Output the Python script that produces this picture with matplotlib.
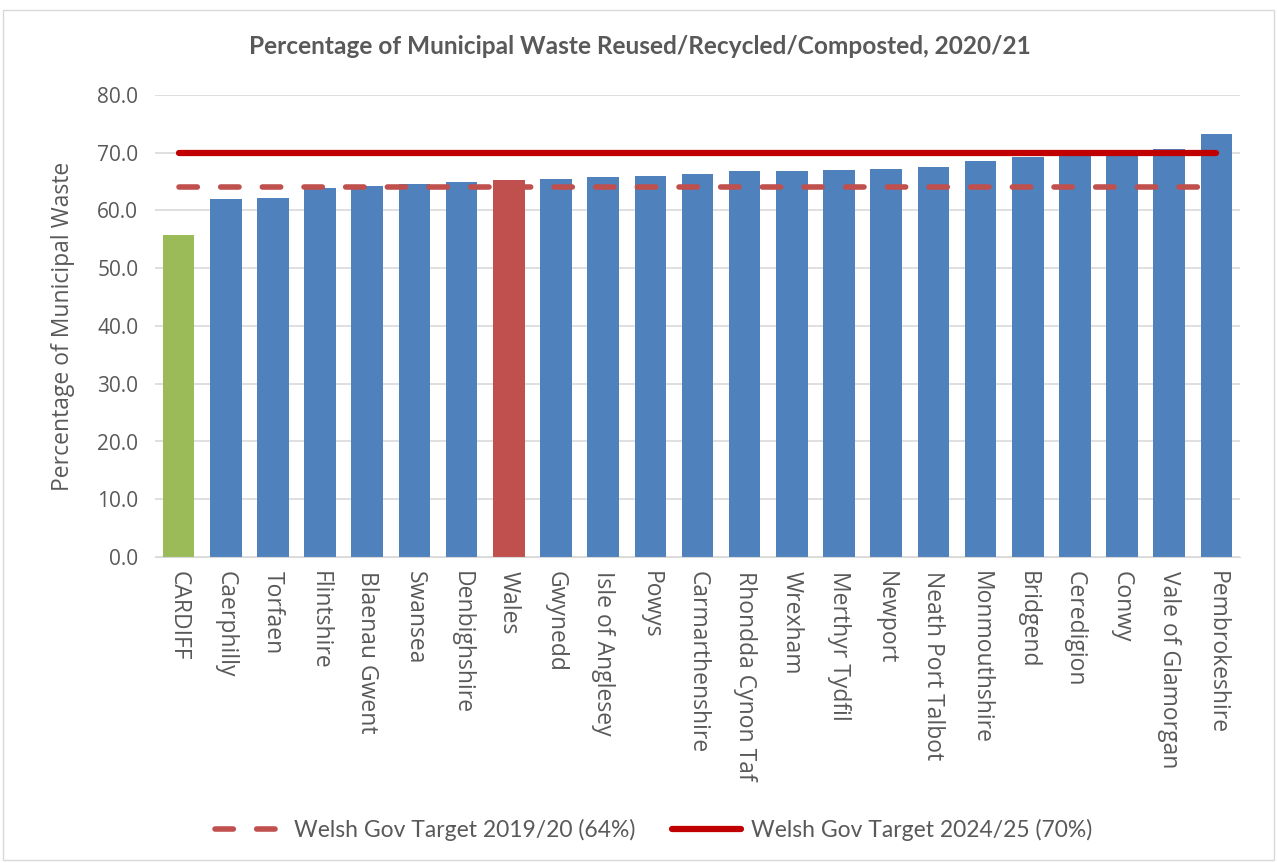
import matplotlib
matplotlib.use("Agg")
import matplotlib.pyplot as plt
from matplotlib.lines import Line2D
from matplotlib.patches import Rectangle

categories = ["CARDIFF", "Caerphilly", "Torfaen", "Flintshire", "Blaenau Gwent", "Swansea",
              "Denbighshire", "Wales", "Gwynedd", "Isle of Anglesey", "Powys", "Carmarthenshire",
              "Rhondda Cynon Taf", "Wrexham", "Merthyr Tydfil", "Newport", "Neath Port Talbot",
              "Monmouthshire", "Bridgend", "Ceredigion", "Conwy", "Vale of Glamorgan", "Pembrokeshire"]
values = [55.8, 62.0, 62.1, 63.9, 64.3, 64.6, 64.9, 65.3, 65.5, 65.8, 66.0, 66.4,
          66.8, 66.9, 67.0, 67.2, 67.6, 68.5, 69.2, 70.1, 70.2, 70.6, 73.3]
target_2019 = 64.0
target_2024 = 70.0
yticks = [0, 10, 20, 30, 40, 50, 60, 70, 80]

AXFONT = ["Open Sans", "DejaVu Sans"]
TFONT = ["Lato", "DejaVu Sans"]
plt.rcParams['font.family'] = AXFONT

fig = plt.figure(figsize=(12.77, 8.63), dpi=100)
fig.patches.append(Rectangle((3/1277, 3/863), 1271/1277, 850/863, transform=fig.transFigure,
                             fill=False, edgecolor="#D9D9D9", linewidth=1))
ax = fig.add_axes([155/1277, 1 - 557/863, (1240 - 155)/1277, (557 - 95)/863])

n = len(categories)
x = list(range(n))
colors = []
for c in categories:
    if c == "CARDIFF":
        colors.append("#9BBB59")
    elif c == "Wales":
        colors.append("#C0504D")
    else:
        colors.append("#4F81BD")
ax.bar(x, values, width=0.67, color=colors, zorder=2)

DASH = (0, (3.3, 4.2))
ax.plot(x, [target_2019] * n, color="#C0504D", linewidth=4, linestyle=DASH,
        dash_capstyle="round", solid_capstyle="round", zorder=3)
ax.plot(x, [target_2024] * n, color="#C00000", linewidth=4.5, solid_capstyle="round", zorder=3)

ax.set_xlim(-0.5, n - 0.5)
ax.set_ylim(0, 80)
ax.set_yticks(yticks)
ax.set_yticklabels([f"{v:.1f}" for v in yticks], fontsize=15, color="#595959")
ax.set_xticks(x)
ax.set_xticklabels(categories, rotation=-90, fontsize=16.5, color="#595959", va="top", ha="center")
ax.tick_params(axis="both", length=0)
ax.tick_params(axis="x", pad=10)
ax.tick_params(axis="y", pad=12)
ax.grid(axis="y", color="#D9D9D9", linewidth=1.2, zorder=0)
ax.set_axisbelow(True)
for s in ["top", "right", "left"]:
    ax.spines[s].set_visible(False)
ax.spines["bottom"].set_color("#D9D9D9")
ax.set_ylabel("Percentage of Municipal Waste", fontsize=16.5, color="#595959", labelpad=16)

fig.text(640/1277, 1 - 47/863, "Percentage of Municipal Waste Reused/Recycled/Composted, 2020/21",
         ha="center", va="center", fontsize=17.6, fontweight="bold", color="#595959", family=TFONT)

handles = [Line2D([0], [0], color="#C0504D", linewidth=4, linestyle=DASH,
                  dash_capstyle="round"),
           Line2D([0], [0], color="#C00000", linewidth=4.5, solid_capstyle="round")]
labels = ["Welsh Gov Target 2019/20 (64%)", "Welsh Gov Target 2024/25 (70%)"]
fig.legend(handles, labels, loc="center", bbox_to_anchor=(654/1277, 1 - 830/863), ncol=2,
           frameon=False, handlelength=3.0, columnspacing=1.6, handletextpad=0.45,
           labelcolor="#595959", prop={"family": TFONT, "size": 16.5})

fig.savefig("out.png", dpi=100)
